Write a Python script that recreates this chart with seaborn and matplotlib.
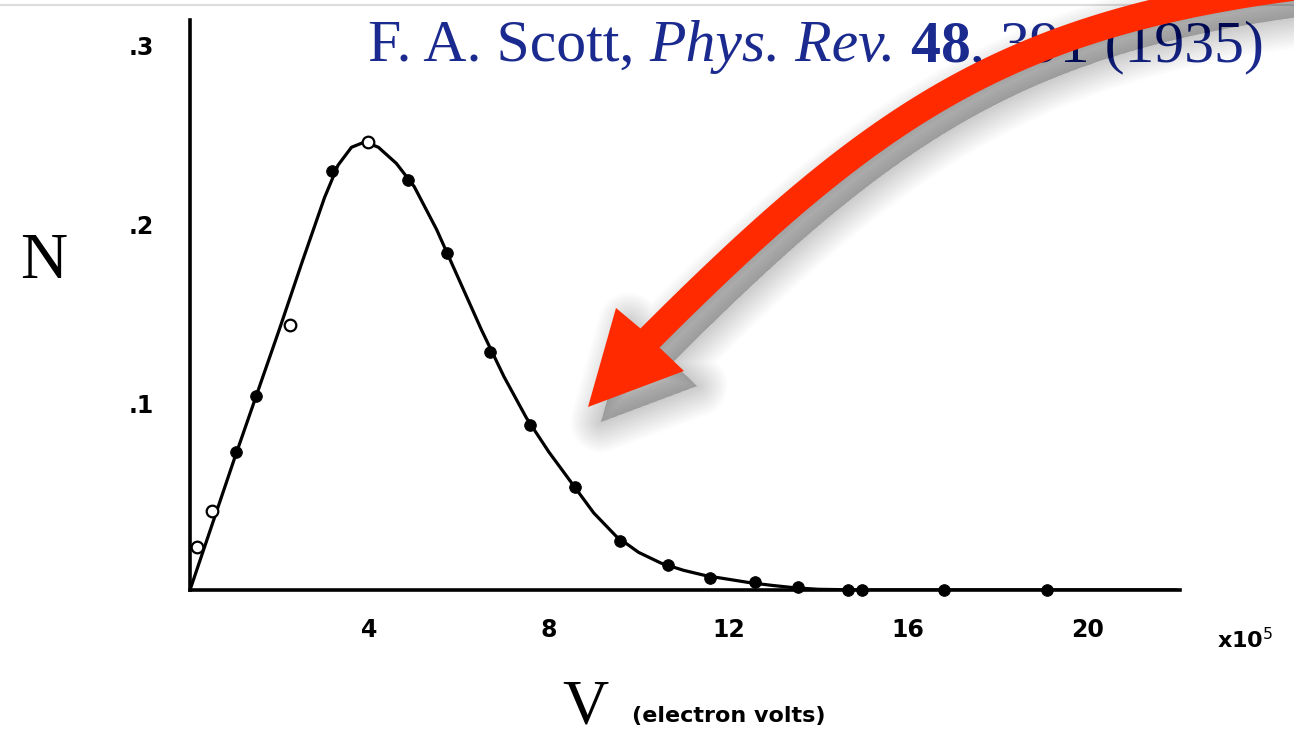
import matplotlib
matplotlib.use("Agg")
import matplotlib.pyplot as plt
import matplotlib.transforms as mtransforms
import numpy as np
import seaborn as sns
import pandas as pd
from matplotlib.patches import Polygon
from matplotlib.lines import Line2D

# ---- data (V in units of 1e5 eV) ----
curve_v = [0, 0.5, 1, 1.5, 2, 2.5, 3, 3.3, 3.6, 3.9, 4.2, 4.6, 5.0, 5.5, 6.0,
           6.5, 7.0, 7.5, 8.0, 8.5, 9.0, 9.5, 10.0, 10.5, 11, 11.5, 12, 12.5,
           13, 13.5, 14, 15, 17, 19, 22]
curve_n = [0, 0.037, 0.074, 0.110, 0.146, 0.183, 0.219, 0.237, 0.247, 0.250,
           0.247, 0.238, 0.225, 0.201, 0.173, 0.145, 0.119, 0.096, 0.077,
           0.060, 0.043, 0.030, 0.021, 0.015, 0.011, 0.008, 0.006, 0.004,
           0.0025, 0.0012, 0.0004, 0, 0, 0, 0]

filled_v = [1.03, 1.47, 3.17, 4.86, 5.73, 6.69, 7.58, 8.58, 9.59, 10.66,
            11.6, 12.6, 13.56, 14.67, 14.98, 16.8, 19.1]
filled_n = [0.077, 0.108, 0.234, 0.229, 0.188, 0.133, 0.092, 0.0575, 0.0274,
            0.014, 0.0067, 0.0045, 0.0017, 0.0, 0.0, 0.0, 0.0]

open_v = [0.16, 0.49, 2.23, 3.97]
open_n = [0.024, 0.044, 0.148, 0.250]

xticks = [4, 8, 12, 16, 20]
xtick_labels = ["4", "8", "12", "16", "20"]
yticks = [0.1, 0.2, 0.3]
ytick_labels = [".1", ".2", ".3"]

title_parts = [("F. A. Scott, ", "normal", "normal"),
               ("Phys. Rev.", "italic", "normal"),
               (" 48", "normal", "bold"),
               (", 391 (1935)", "normal", "normal")]

sns.set_theme(style="white")
plt.rcParams["font.family"] = ["DejaVu Sans"]

W, H = 1294, 736
fig = plt.figure(figsize=(W / 100, H / 100), dpi=100)
fig.patch.set_facecolor("white")


def px(x, y):
    return x / W, 1 - y / H


ax = fig.add_axes([190 / W, 1 - 590 / H, (1180 - 190) / W, (590 - 20) / H])
ax.set_facecolor("white")

curve = pd.DataFrame({"V": curve_v, "N": curve_n})
sns.lineplot(data=curve, x="V", y="N", ax=ax, color="black", lw=2.3,
             zorder=2)
sns.scatterplot(x=filled_v, y=filled_n, ax=ax, color="black", s=70,
                edgecolor="black", zorder=3, clip_on=False)
sns.scatterplot(x=open_v, y=open_n, ax=ax, facecolor="white", s=70,
                edgecolor="black", linewidth=1.6, zorder=3, clip_on=False)

ax.set_xlim(0, 22.07)
ax.set_ylim(0, 0.318)
for s in ["top", "right"]:
    ax.spines[s].set_visible(False)
for s in ["left", "bottom"]:
    ax.spines[s].set_color("black")
    ax.spines[s].set_linewidth(2.6)

ax.set_xticks(xticks, xtick_labels)
ax.set_yticks(yticks, ytick_labels)
ax.tick_params(axis="x", direction="in", length=16, width=2.2, pad=20,
               labelsize=17, colors="black")
ax.tick_params(axis="y", direction="in", length=25, width=2.2, pad=26,
               labelsize=17, colors="black")
lift = mtransforms.ScaledTranslation(0, 0.07, fig.dpi_scale_trans)
for lab in ax.get_yticklabels():
    lab.set_transform(lab.get_transform() + lift)
for lab in ax.get_xticklabels() + ax.get_yticklabels():
    lab.set_fontweight("bold")
ax.set_xlabel("")
ax.set_ylabel("")

# axis labels
fig.text(*px(44, 262), "N", family="Liberation Serif", fontsize=47,
         ha="center", va="center", color="black")
fig.text(*px(585, 708), "V", family="Liberation Serif", fontsize=46,
         ha="center", va="center", color="black")
fig.text(*px(632, 716), "(electron volts)", fontsize=16, fontweight="bold",
         ha="left", va="center", color="black")
fig.text(*px(1217, 640), r"x10$^{5}$", fontsize=16, fontweight="bold",
         ha="left", va="center", color="black")

# light border line at top
fig.add_artist(Line2D([0, 1], [1 - 5 / H, 1 - 5 / H], color="#dddddd",
                      lw=1.5, transform=fig.transFigure))

# citation in blue, mixed styles
renderer = fig.canvas.get_renderer()
x0 = 368
for txt, style, weight in title_parts:
    t = fig.text(*px(x0, 61), txt, family="Liberation Serif", fontsize=43,
                 style=style, fontweight=weight, color="#1b2a8e",
                 ha="left", va="baseline")
    bb = t.get_window_extent(renderer=renderer)
    x0 += bb.width

# ---- red curved arrow (overlay in pixel coordinates) ----
ov = fig.add_axes([0, 0, 1, 1], zorder=10)
ov.set_xlim(0, W)
ov.set_ylim(H, 0)
ov.axis("off")
ov.patch.set_alpha(0)

p0 = np.array([1320.0, -16.0])
p1 = np.array([1010.0, 20.0])
p2 = np.array([876.0, 112.0])
p3 = np.array([650.0, 338.0])
tt = np.linspace(0, 1, 80)[:, None]
centre = ((1 - tt) ** 3 * p0 + 3 * (1 - tt) ** 2 * tt * p1
          + 3 * (1 - tt) * tt ** 2 * p2 + tt ** 3 * p3)
tang = np.gradient(centre, axis=0)
tang /= np.linalg.norm(tang, axis=1)[:, None]
norm = np.column_stack([-tang[:, 1], tang[:, 0]])
half = 13.5
side_a = centre + norm * half
side_b = centre - norm * half
barb_a = np.array([616.0, 308.0])
barb_b = np.array([684.0, 371.0])
tip = np.array([588.0, 407.0])
# keep the barbs on the right sides of the shaft
if np.dot(barb_a - p3, norm[-1]) < 0:
    barb_a, barb_b = barb_b, barb_a
outline = np.vstack([side_a, barb_a, tip, barb_b, side_b[::-1]])

shadow = outline + np.array([13.0, 15.0])
for k in np.linspace(0, 44, 18):
    ov.add_patch(Polygon(shadow, closed=True, facecolor="black",
                         edgecolor="black", lw=k, alpha=0.013,
                         joinstyle="round"))
ov.add_patch(Polygon(outline, closed=True, facecolor="#ff2a00",
                     edgecolor="none"))

fig.savefig("out.png", dpi=100, facecolor="white")
